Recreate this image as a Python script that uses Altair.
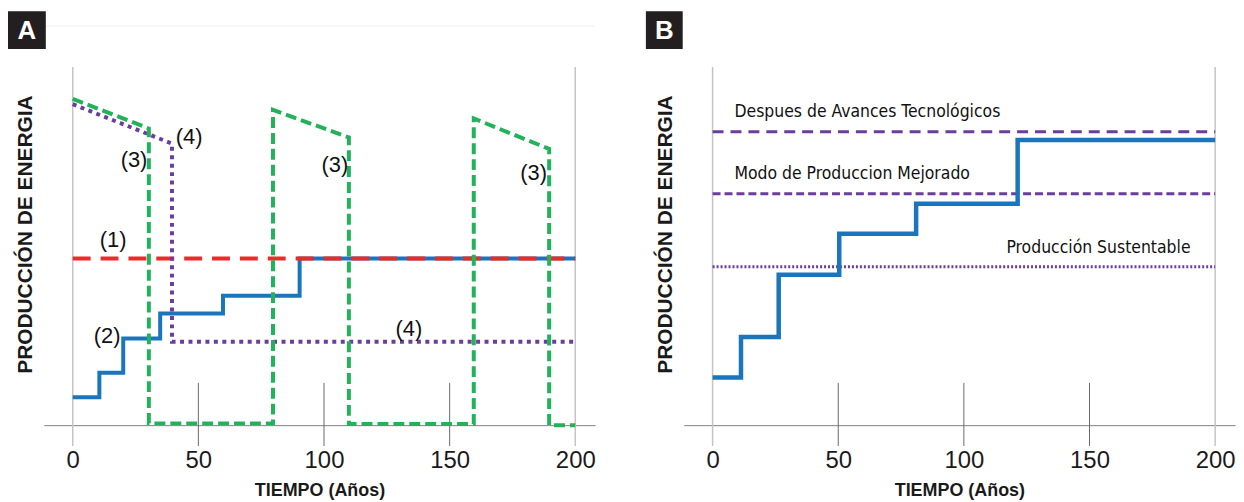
import altair as alt
import pandas as pd

# ---------------- data: panel A ----------------
a_blue_x = [0, 10.6, 20.1, 34.8, 59.8, 90.3, 200]
a_blue_y = [7.8, 14.6, 24.2, 31.2, 36.1, 46.5, 46.5]
a_red_x = [0, 200]
a_red_y = [46.5, 46.5]
a_green_x = [0, 30.3, 30.3, 79.7, 79.7, 109.9, 109.9, 159.6, 159.6, 189.6, 189.6, 200]
a_green_y = [91.1, 82.8, 0.5, 0.5, 88.0, 80.3, 0.3, 0.3, 85.6, 77.1, 0.0, 0.0]
a_purple_x = [0, 39.5, 39.5, 200]
a_purple_y = [89.6, 78.6, 23.3, 23.3]
a_label_text = ["(1)", "(2)", "(3)", "(4)", "(3)", "(3)", "(4)"]
a_label_x = [16.1, 13.7, 24.4, 46.3, 104.3, 183.4, 133.8]
a_label_y = [51.8, 25.0, 74.0, 80.5, 72.7, 70.3, 26.8]

# ---------------- data: panel B ----------------
b_blue_x = [0, 11.3, 26.3, 50.4, 81.0, 121.4, 200]
b_blue_y = [13.3, 24.6, 42.0, 53.4, 61.8, 79.6, 79.6]
b_tech_y = 81.9
b_mejor_y = 64.6
b_sust_y = 44.2
b_label_text = ["Despues de Avances Tecnológicos", "Modo de Produccion Mejorado", "Producción Sustentable"]
b_label_x = [8.7, 8.7, 190.2]
b_label_y = [87.4, 70.1, 49.4]
b_label_align = ["left", "left", "right"]

x_ticks = [0, 50, 100, 150, 200]
x_full_grid = [0, 200]
x_short_grid = [50, 100, 150]

X_DOMAIN = [-11.5, 207.9]
Y_DOMAIN = [0, 100]
W, H = 554, 360

AXIS_FONT = "Liberation Sans, Arial, sans-serif"
NARROW_FONT = "Liberation Sans Narrow, Arial Narrow, DejaVu Sans Condensed, sans-serif"


def xy(xs, ys):
    return pd.DataFrame({"x": xs, "y": ys, "i": list(range(len(xs)))})


def xenc():
    return alt.X(
        "x:Q",
        scale=alt.Scale(domain=X_DOMAIN, nice=False, zero=False),
        axis=alt.Axis(
            values=x_ticks, grid=False, ticks=False, tickSize=0, domain=True,
            domainColor="#808080", domainWidth=1,
            labelFont=AXIS_FONT, labelFontSize=24, labelColor="#1a1a1a", labelPadding=24,
            title="TIEMPO (Años)", titleFont=AXIS_FONT, titleFontSize=18,
            titleFontWeight="bold", titleColor="#1a1a1a", titlePadding=9,
        ),
    )


def yenc():
    return alt.Y(
        "y:Q",
        scale=alt.Scale(domain=Y_DOMAIN, nice=False, zero=False),
        axis=alt.Axis(
            labels=False, ticks=False, domain=False, grid=False,
            title="PRODUCCIÓN DE ENERGIA", titleFont=AXIS_FONT, titleFontSize=21,
            titleFontWeight="bold", titleColor="#1a1a1a", titlePadding=8, titleY=168,
        ),
    )


def frame_layers():
    full = pd.DataFrame({"x": x_full_grid, "y": [-5.8] * 2, "y2": [100] * 2})
    short = pd.DataFrame({"x": x_short_grid, "y": [-5.8] * 3, "y2": [11.8] * 3})
    g1 = alt.Chart(full).mark_rule(color="#c4c4c4", strokeWidth=1.5).encode(
        x=xenc(), y=yenc(), y2="y2:Q")
    g2 = alt.Chart(short).mark_rule(color="#6a6a6a", strokeWidth=1).encode(
        x="x:Q", y="y:Q", y2="y2:Q")
    return [g1, g2]


def badge(letter, x0, x1):
    d = pd.DataFrame({"t": [letter]})
    r = alt.Chart(d).mark_rect(color="#231f20").encode(
        x=alt.value(x0), x2=alt.value(x1), y=alt.value(-56), y2=alt.value(-18))
    t = alt.Chart(d).mark_text(color="white", font=AXIS_FONT, fontSize=26, fontWeight="bold",
                               align="center", baseline="middle").encode(
        x=alt.value((x0 + x1) / 2), y=alt.value(-36), text="t:N")
    return [r, t]


def line(df, color, width, dash=None, interp="linear"):
    kw = dict(color=color, strokeWidth=width, interpolate=interp)
    if dash is not None:
        kw["strokeDash"] = dash
    return alt.Chart(df).mark_line(**kw).encode(x="x:Q", y="y:Q", order="i:Q")


# ---------------- panel A ----------------
a_labels = pd.DataFrame({"x": a_label_x, "y": a_label_y, "t": a_label_text})
faint = pd.DataFrame({"t": [""]})
a_faint = alt.Chart(faint).mark_rule(color="#f0f0f0", strokeWidth=1).encode(
    x=alt.value(2), x2=alt.value(W), y=alt.value(-41))

panel_a = alt.layer(
    *frame_layers(),
    a_faint,
    line(xy(a_blue_x, a_blue_y), "#1b75bc", 4, interp="step-after"),
    line(xy(a_red_x, a_red_y), "#ec2a2a", 4, dash=[18, 10]),
    line(xy(a_purple_x, a_purple_y), "#6a3d9f", 4, dash=[4, 4.5]),
    line(xy(a_green_x, a_green_y), "#22b35a", 4, dash=[11, 5]),
    alt.Chart(a_labels).mark_text(font=AXIS_FONT, fontSize=22, color="#111111",
                                  align="center", baseline="middle").encode(
        x="x:Q", y="y:Q", text="t:N"),
    *badge("A", -36, 2),
).properties(width=W, height=H)

# ---------------- panel B ----------------
b_labels = pd.DataFrame({"x": b_label_x, "y": b_label_y, "t": b_label_text, "a": b_label_align})
b_left = b_labels[b_labels["a"] == "left"]
b_right = b_labels[b_labels["a"] == "right"]

panel_b = alt.layer(
    *frame_layers(),
    line(xy([0, 200], [b_tech_y, b_tech_y]), "#6a3d9f", 3, dash=[11, 7]),
    line(xy([0, 200], [b_mejor_y, b_mejor_y]), "#6a3d9f", 3, dash=[8, 4]),
    line(xy([0, 200], [b_sust_y, b_sust_y]), "#6a3d9f", 3, dash=[2, 2]),
    line(xy(b_blue_x, b_blue_y), "#1b75bc", 4.5, interp="step-after"),
    alt.Chart(b_left).mark_text(font=NARROW_FONT, fontSize=17.5, color="#111111",
                                align="left", baseline="middle").encode(
        x="x:Q", y="y:Q", text="t:N"),
    alt.Chart(b_right).mark_text(font=NARROW_FONT, fontSize=17.5, color="#111111",
                                 align="right", baseline="middle").encode(
        x="x:Q", y="y:Q", text="t:N"),
    *badge("B", -38, -1),
).properties(width=W, height=H)

chart = alt.hconcat(panel_a, panel_b, spacing=50).properties(
    padding={"left": 0, "top": 2, "right": 0, "bottom": 0}
).configure_view(stroke=None)

chart.save("out.html", embed_options={"renderer": "svg", "actions": False})
